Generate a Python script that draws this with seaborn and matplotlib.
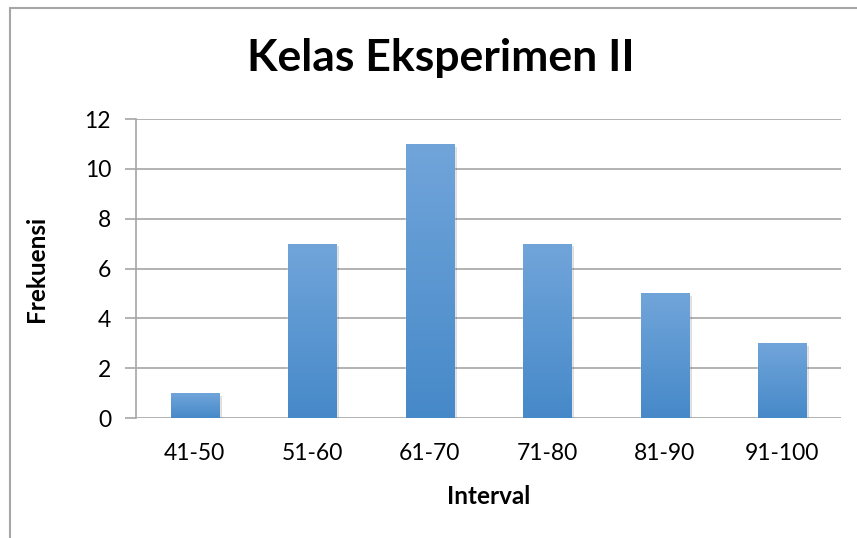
import matplotlib
matplotlib.use("Agg")
import matplotlib.pyplot as plt
import matplotlib.patheffects as pe
from matplotlib.lines import Line2D
import numpy as np
import pandas as pd
import seaborn as sns

# data
intervals = ["41-50", "51-60", "61-70", "71-80", "81-90", "91-100"]
frekuensi = [1, 7, 11, 7, 5, 3]
y_ticks = [0, 2, 4, 6, 8, 10, 12]

title = "Kelas Eksperimen II"
x_label = "Interval"
y_label = "Frekuensi"

top_color = "#71a5da"
bottom_color = "#4689c9"
grid_color = "#a6a6a6"

sns.set_style("white")
plt.rcParams["font.family"] = ["Lato", "DejaVu Sans"]
plt.rcParams["text.color"] = "black"
plt.rcParams["xtick.labelcolor"] = "black"
plt.rcParams["ytick.labelcolor"] = "black"
plt.rcParams["axes.labelcolor"] = "black"

df = pd.DataFrame({"interval": intervals, "frekuensi": frekuensi})

fig = plt.figure(figsize=(8.57, 5.38), dpi=100)
ax = fig.add_axes([0.1587, 0.223, 0.8226, 0.5558])

sns.barplot(data=df, x="interval", y="frekuensi", color=bottom_color,
            width=0.41, ax=ax, zorder=3)

# gradient fill inside each bar + soft shadow
grad = np.linspace(0, 1, 256).reshape(-1, 1)
cmap = matplotlib.colors.LinearSegmentedColormap.from_list("bar", [bottom_color, top_color])
for bar in ax.patches:
    x0, y0 = bar.get_x(), bar.get_y()
    w, h = bar.get_width(), bar.get_height()
    bar.set_path_effects([pe.SimplePatchShadow(offset=(2, -2), shadow_rgbFace="#000000",
                                               alpha=0.13), pe.Normal()])
    im = ax.imshow(grad, extent=[x0, x0 + w, y0, y0 + h], origin="lower",
                   cmap=cmap, aspect="auto", zorder=4)
    im.set_clip_path(bar)

ax.set_xlim(-0.5, len(intervals) - 0.5)
ax.set_ylim(0, 12)
ax.set_yticks(y_ticks)

ax.yaxis.grid(True, color=grid_color, linewidth=1.2, zorder=0)
ax.set_axisbelow(True)
for s in ["top", "right", "bottom"]:
    ax.spines[s].set_visible(False)
ax.spines["left"].set_color(grid_color)
ax.spines["left"].set_linewidth(1.2)

ax.tick_params(axis="y", length=8, width=1.2, color=grid_color, pad=10,
               labelsize=16.5, left=True)
ax.tick_params(axis="x", length=0, pad=18, labelsize=16.5)

ax.set_xlabel(x_label, fontsize=17.5, fontweight="bold", labelpad=15)
ax.set_ylabel(y_label, fontsize=17.5, fontweight="bold", labelpad=26)
fig.text(0.514, 0.892, title, ha="center", va="center", fontsize=32, fontweight="bold")

# outer chart border (top and left edges visible)
fig.add_artist(Line2D([10 / 857, 1], [1 - 8 / 538, 1 - 8 / 538], color=grid_color,
                      linewidth=1.5, transform=fig.transFigure))
fig.add_artist(Line2D([10 / 857, 10 / 857], [0, 1 - 8 / 538], color=grid_color,
                      linewidth=1.5, transform=fig.transFigure))

fig.savefig("out.png", dpi=100)
